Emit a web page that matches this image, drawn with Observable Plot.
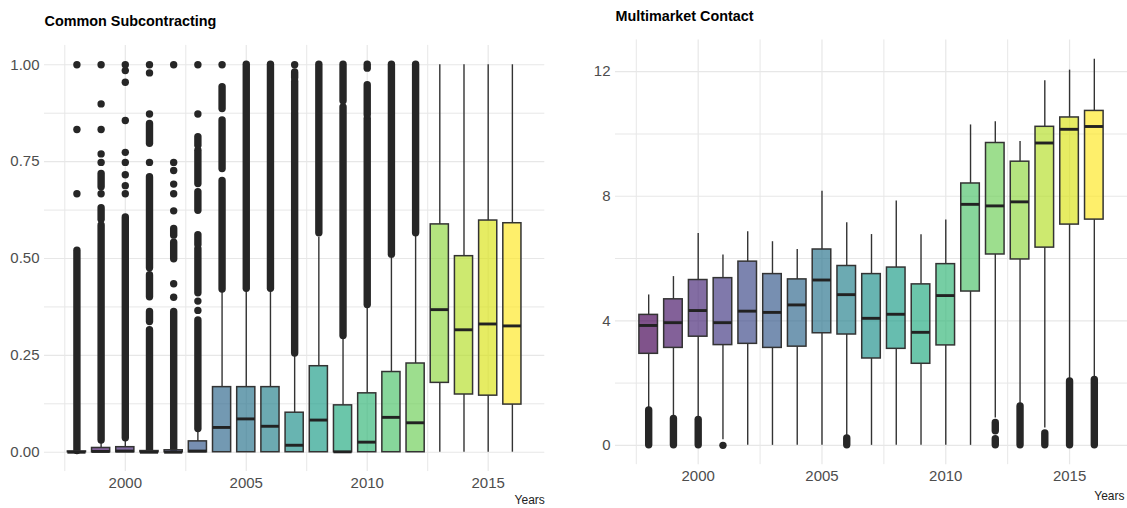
<!DOCTYPE html>
<html><head><meta charset="utf-8">
<script src="https://cdn.jsdelivr.net/npm/d3@7"></script>
<script src="https://cdn.jsdelivr.net/npm/@observablehq/plot@0.6"></script>
<style>
html,body{margin:0;padding:0;background:#fff;overflow:hidden;}
#wrap{position:relative;width:1127px;height:508px;overflow:hidden;}
#left{position:absolute;left:0;top:0;}
#right{position:absolute;left:562px;top:0;}
</style></head><body>
<div id="wrap"><div id="left"></div><div id="right"></div></div>
<script>
// ---------- data ----------
const years = [1998,1999,2000,2001,2002,2003,2004,2005,2006,2007,2008,2009,2010,2011,2012,2013,2014,2015,2016];
const xTickLabels = [2000, 2005, 2010, 2015];

// Common Subcontracting (left)
const csTitle = "Common Subcontracting";
const csQ1   = [0,     0,     0,     0,     0,     0,     0,     0,     0,     0,     0,     0,     0,     0,     0,     0.179, 0.149, 0.146, 0.123];
const csMed  = [0,     0.002, 0.003, 0,     0,     0.003, 0.064, 0.086, 0.067, 0.018, 0.083, 0.001, 0.026, 0.090, 0.076, 0.368, 0.316, 0.331, 0.326];
const csQ3   = [0.002, 0.011, 0.013, 0.003, 0.005, 0.028, 0.168, 0.168, 0.168, 0.102, 0.222, 0.121, 0.152, 0.207, 0.229, 0.588, 0.506, 0.598, 0.591];
const csLow  = [0,     0,     0,     0,     0,     0,     0,     0,     0,     0,     0,     0,     0,     0,     0,     0,     0,     0,     0];
const csHigh = [0.002, 0.027, 0.033, 0.004, 0.006, 0.056, 0.414, 0.418, 0.418, 0.250, 0.555, 0.295, 0.373, 0.505, 0.560, 1.0,   1.0,   1.0,   1.0];
// runs of overlapping outlier dots: [year, from, to]
const csOutlierRuns = [
  [1998, 0.003, 0.52],
  [1999, 0.03, 0.585], [1999, 0.60, 0.63], [1999, 0.684, 0.718],
  [2000, 0.036, 0.606],
  [2001, 0.006, 0.315], [2001, 0.336, 0.362], [2001, 0.40, 0.457], [2001, 0.475, 0.71], [2001, 0.796, 0.847],
  [2002, 0.008, 0.362], [2002, 0.498, 0.541], [2002, 0.559, 0.576],
  [2003, 0.06, 0.34], [2003, 0.41, 0.524], [2003, 0.535, 0.56], [2003, 0.623, 0.671], [2003, 0.692, 0.778], [2003, 0.791, 0.813],
  [2004, 0.42, 0.70], [2004, 0.731, 0.856], [2004, 0.886, 0.942],
  [2005, 0.422, 1.0],
  [2006, 0.422, 1.0],
  [2007, 0.255, 0.875], [2007, 0.882, 0.956], [2007, 0.965, 0.98],
  [2008, 0.565, 1.0],
  [2009, 0.30, 0.89], [2009, 0.906, 1.0],
  [2010, 0.38, 0.86], [2010, 0.87, 0.947], [2010, 0.99, 1.0],
  [2011, 0.51, 1.0],
  [2012, 0.565, 1.0]
];
// single outlier dots: [year, value]
const csOutlierPoints = [
  [1998, 0.667], [1998, 0.833], [1998, 1.0],
  [1999, 0.667], [1999, 0.748], [1999, 0.77], [1999, 0.833], [1999, 0.899], [1999, 1.0],
  [2000, 0.667], [2000, 0.688], [2000, 0.716], [2000, 0.748], [2000, 0.774], [2000, 0.856], [2000, 0.955], [2000, 0.985], [2000, 1.0],
  [2001, 0.748], [2001, 0.873], [2001, 0.979], [2001, 1.0],
  [2002, 0.40], [2002, 0.435], [2002, 0.623], [2002, 0.667], [2002, 0.692], [2002, 0.727], [2002, 0.748], [2002, 1.0],
  [2003, 0.366], [2003, 0.39], [2003, 0.873], [2003, 1.0],
  [2004, 1.0], [2007, 1.0]
];

// Multimarket Contact (right)
const mmTitle = "Multimarket Contact";
const mmQ1   = [2.94, 3.13, 3.49, 3.22, 3.26, 3.13, 3.17, 3.60, 3.56, 2.79, 3.10, 2.62, 3.21, 4.94, 6.13, 5.97, 6.35, 7.09, 7.25];
const mmMed  = [3.85, 3.94, 4.33, 3.94, 4.31, 4.27, 4.51, 5.31, 4.84, 4.08, 4.21, 3.63, 4.81, 7.74, 7.69, 7.82, 9.71, 10.15, 10.24];
const mmQ3   = [4.19, 4.69, 5.31, 5.37, 5.90, 5.50, 5.33, 6.29, 5.76, 5.50, 5.71, 5.17, 5.82, 8.41, 9.71, 9.11, 10.23, 10.53, 10.74];
const mmLow  = [1.14, 0.88, 0.88, 0.18, 0,    0,    0,    0,    0.30, 0,    0,    0,    0,    0,    0.88, 1.30, 0.56, 2.10, 2.15];
const mmHigh = [4.83, 5.42, 6.80, 6.11, 6.86, 6.54, 6.29, 8.16, 7.15, 6.77, 7.85, 6.76, 7.24, 10.29, 10.39, 9.76, 11.71, 12.05, 12.40];
const mmOutlierRuns = [
  [1998, 0, 1.12], [1999, 0, 0.85], [2000, 0, 0.82], [2006, 0, 0.22],
  [2012, 0, 0.2], [2012, 0.45, 0.72], [2013, 0, 1.25], [2014, 0, 0.38],
  [2015, 0, 2.05], [2016, 0, 2.1]
];
const mmOutlierPoints = [[2001, 0]];

// ---------- drawing ----------
const BOX_W = 0.75;
const xDomain = [1996.66, 2017.34];
const xGridMajor = [2000, 2005, 2010, 2015];
const xGridMinor = [1997.5, 2002.5, 2007.5, 2012.5];
const FONT = "'Liberation Sans', Arial, Helvetica, sans-serif";

function rowsOf(q1, med, q3, lo, hi) {
  return years.map((year, i) => ({year, q1: q1[i], med: med[i], q3: q3[i], lo: lo[i], hi: hi[i]}));
}

function panel(o) {
  const rows = rowsOf(o.q1, o.med, o.q3, o.lo, o.hi);
  const grid = "#e7e7e7";
  const ink = "#262626";
  return Plot.plot({
    width: o.width, height: 508,
    marginLeft: o.ml, marginRight: o.mr, marginTop: o.mt, marginBottom: o.mb,
    style: {fontFamily: FONT, fontSize: "15px", color: "#4d4d4d", background: "transparent", overflow: "visible"},
    x: {domain: xDomain, axis: null},
    y: {domain: o.yDomain, axis: null},
    color: {type: "ordinal", scheme: "viridis", domain: years},
    marks: [
      Plot.ruleY(o.yMinor, {stroke: grid, strokeWidth: 1}),
      Plot.ruleY(o.yMajor, {stroke: grid, strokeWidth: 1.2}),
      Plot.ruleX(xGridMinor, {stroke: grid, strokeWidth: 1}),
      Plot.ruleX(xGridMajor, {stroke: grid, strokeWidth: 1.2}),
      Plot.ruleX(rows, {x: "year", y1: "q3", y2: "hi", stroke: "#333", strokeWidth: 1.4}),
      Plot.ruleX(rows, {x: "year", y1: "lo", y2: "q1", stroke: "#333", strokeWidth: 1.4}),
      Plot.ruleX(o.runs, {x: d => d[0], y1: d => d[1], y2: d => d[2], stroke: ink, strokeWidth: 7.4, strokeLinecap: "round"}),
      Plot.dot(o.pts, {x: d => d[0], y: d => d[1], r: 3.7, fill: ink, stroke: "none"}),
      Plot.rect(rows, {x1: d => d.year - BOX_W / 2, x2: d => d.year + BOX_W / 2, y1: "q1", y2: "q3",
        fill: "year", fillOpacity: 0.68, stroke: "#333", strokeWidth: 1.5}),
      Plot.ruleY(rows, {y: "med", x1: d => d.year - BOX_W / 2, x2: d => d.year + BOX_W / 2, stroke: "#222", strokeWidth: 2.9}),
      Plot.axisX({ticks: xTickLabels, tickFormat: d => String(d), tickSize: 0, tickPadding: 6, label: null, fontSize: 15}),
      Plot.axisY({ticks: o.yTicks, tickFormat: o.fmt, tickSize: 0, tickPadding: 5, label: null, fontSize: 15}),
      Plot.text([o.title], {text: d => d, frameAnchor: "top-left", dy: o.titleDy, textAnchor: "start", lineAnchor: "middle",
        fontWeight: "bold", fontSize: 14.4, fill: "#000"}),
      Plot.text(["Years"], {text: d => d, frameAnchor: "bottom-right", dx: o.yearsDx, dy: o.yearsDy, textAnchor: "end",
        lineAnchor: "middle", fontSize: 12, fill: "#222"})
    ]
  });
}

document.getElementById("left").appendChild(panel({
  title: csTitle, q1: csQ1, med: csMed, q3: csQ3, lo: csLow, hi: csHigh,
  runs: csOutlierRuns, pts: csOutlierPoints,
  yDomain: [-0.05, 1.05], yTicks: [0, 0.25, 0.5, 0.75, 1], fmt: d3.format(".2f"),
  yMajor: [0, 0.25, 0.5, 0.75, 1], yMinor: [0.125, 0.375, 0.625, 0.875],
  width: 556, ml: 44, mr: 11.7, mt: 44.9, mb: 36.9, titleDy: -23.9, yearsDx: 0, yearsDy: 28.2
}));

document.getElementById("right").appendChild(panel({
  title: mmTitle, q1: mmQ1, med: mmMed, q3: mmQ3, lo: mmLow, hi: mmHigh,
  runs: mmOutlierRuns, pts: mmOutlierPoints,
  yDomain: [-0.62, 13.02], yTicks: [0, 4, 8, 12], fmt: d => String(d),
  yMajor: [0, 4, 8, 12], yMinor: [2, 6, 10],
  width: 566, ml: 53.1, mr: 0, mt: 39.5, mb: 43, titleDy: -23.5, yearsDx: -3, yearsDy: 31.7
}));
</script></body></html>
